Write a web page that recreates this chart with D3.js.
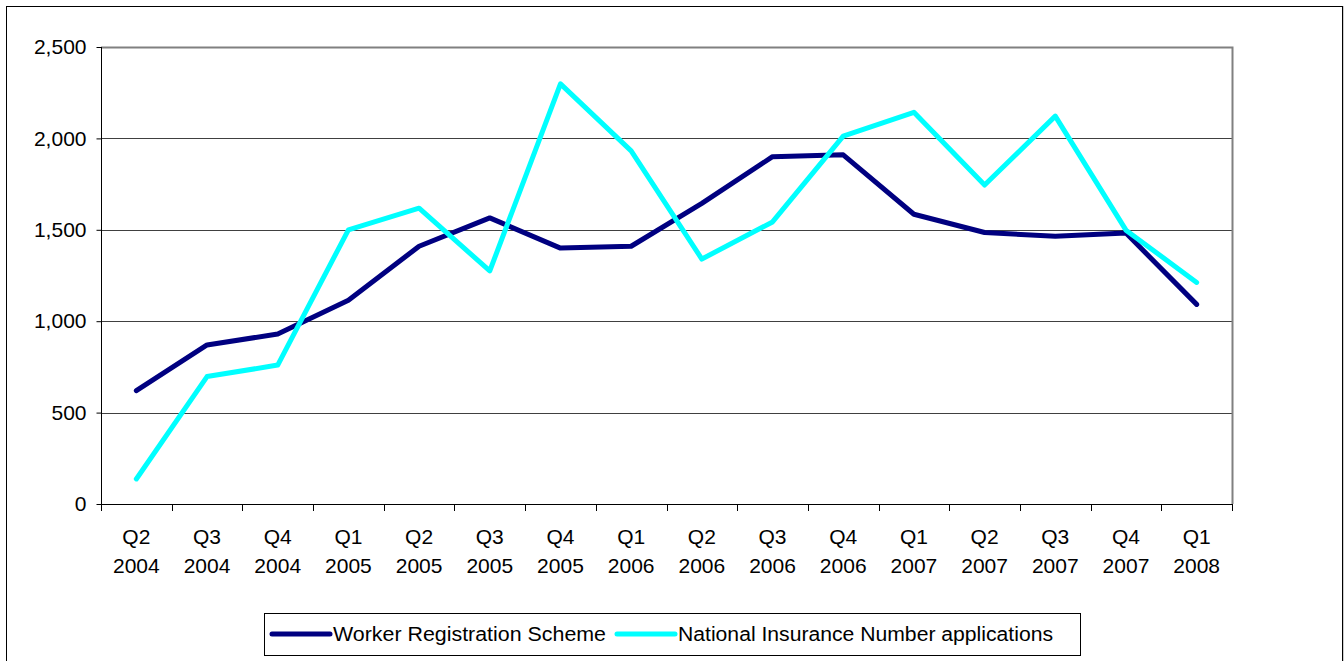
<!DOCTYPE html>
<html>
<head>
<meta charset="utf-8">
<script src="https://cdn.jsdelivr.net/npm/d3@7"></script>
<style>
  body { margin: 0; background: #fff; }
  svg { display: block; font-family: "Liberation Sans", Arial, sans-serif; }
</style>
</head>
<body>
<svg id="chart" width="1344" height="661"></svg>
<script>
const quarters = ['Q2', 'Q3', 'Q4', 'Q1', 'Q2', 'Q3', 'Q4', 'Q1', 'Q2', 'Q3', 'Q4', 'Q1', 'Q2', 'Q3', 'Q4', 'Q1'];
const years = ['2004', '2004', '2004', '2005', '2005', '2005', '2005', '2006', '2006', '2006', '2006', '2007', '2007', '2007', '2007', '2008'];
const workerRegistration = [620, 870, 930, 1115, 1410, 1565, 1400, 1410, 1645, 1900, 1910, 1585, 1485, 1465, 1482, 1092];
const ninoApplications = [137, 697, 760, 1500, 1618, 1275, 2298, 1932, 1340, 1543, 2012, 2143, 1745, 2122, 1498, 1212];
const yTicks = [0, 500, 1000, 1500, 2000, 2500];

const seriesList = [
  { name: 'Worker Registration Scheme', values: workerRegistration, color: '#000080' },
  { name: 'National Insurance Number applications', values: ninoApplications, color: '#00FFFF' },
];

const FONT = '"Liberation Sans", Arial, sans-serif';
const svg = d3.select('#chart');
const plot = { left: 101, right: 1232, top: 47, bottom: 504 };
const categories = quarters.map((q, i) => i);

// outer frame
svg.append('rect').attr('x', 6.5).attr('y', 6.5).attr('width', 1336).attr('height', 670)
  .attr('fill', 'none').attr('stroke', '#000').attr('stroke-width', 1);
svg.append('line').attr('x1', 1343.5).attr('x2', 1343.5).attr('y1', 6).attr('y2', 661)
  .attr('stroke', '#ccc');

const xScale = d3.scaleBand().domain(categories).range([plot.left, plot.right]);
const yScale = d3.scaleLinear().domain([0, 2500]).range([plot.bottom, plot.top]);

// gridlines
svg.append('g')
  .selectAll('line')
  .data(yTicks.slice(1, -1))
  .join('line')
  .attr('x1', plot.left).attr('x2', plot.right)
  .attr('y1', (d) => Math.round(yScale(d)) + 0.5).attr('y2', (d) => Math.round(yScale(d)) + 0.5)
  .attr('stroke', '#404040');

// plot border top/right
svg.append('path')
  .attr('d', `M${plot.left},${plot.top + 0.5}H${plot.right + 0.5}V${plot.bottom}`)
  .attr('fill', 'none').attr('stroke', '#808080').attr('stroke-width', 2);

// y axis
const yAxis = svg.append('g')
  .attr('transform', `translate(${plot.left + 0.5},0)`)
  .call(d3.axisLeft(yScale).tickValues(yTicks).tickSize(5).tickPadding(10)
    .tickFormat(d3.format(',')));
yAxis.selectAll('path, line').attr('stroke', '#000');
yAxis.select('.domain').attr('d', `M0,${plot.bottom}V${plot.top}`);
yAxis.selectAll('text').attr('font-size', 21).attr('fill', '#000')
  .attr('font-family', FONT);

// x axis: ticks at band edges
const edges = categories.map((c) => xScale(c)).concat([plot.right]);
const xAxis = svg.append('g');
xAxis.append('line')
  .attr('x1', plot.left).attr('x2', plot.right + 1)
  .attr('y1', plot.bottom + 0.5).attr('y2', plot.bottom + 0.5)
  .attr('stroke', '#000');
xAxis.selectAll('line.tick')
  .data(edges)
  .join('line')
  .attr('class', 'tick')
  .attr('x1', (d) => Math.round(d) + 0.5).attr('x2', (d) => Math.round(d) + 0.5)
  .attr('y1', plot.bottom).attr('y2', plot.bottom + 7)
  .attr('stroke', '#000');

const labels = xAxis.selectAll('text.cat')
  .data(categories)
  .join('text')
  .attr('class', 'cat')
  .attr('x', (d) => xScale(d) + xScale.bandwidth() / 2)
  .attr('text-anchor', 'middle')
  .attr('font-size', 21)
  .attr('font-family', FONT)
  .attr('fill', '#000');
labels.append('tspan').attr('x', (d) => xScale(d) + xScale.bandwidth() / 2).attr('y', 544)
  .text((d) => quarters[d]);
labels.append('tspan').attr('x', (d) => xScale(d) + xScale.bandwidth() / 2).attr('y', 573)
  .text((d) => years[d]);

// lines
const line = d3.line()
  .x((d, i) => xScale(i) + xScale.bandwidth() / 2)
  .y((d) => yScale(d));

svg.append('g')
  .selectAll('path')
  .data(seriesList)
  .join('path')
  .attr('d', (d) => line(d.values))
  .attr('fill', 'none')
  .attr('stroke', (d) => d.color)
  .attr('stroke-width', 5)
  .attr('stroke-linejoin', 'round')
  .attr('stroke-linecap', 'round');

// legend
const legend = svg.append('g');
legend.append('rect')
  .attr('x', 264.5).attr('y', 613.5).attr('width', 816).attr('height', 42)
  .attr('fill', '#fff').attr('stroke', '#000');

const legendItems = [
  { x: 272, tx: 333 },
  { x: 617, tx: 678 },
];
legend.selectAll('g.item')
  .data(seriesList)
  .join('g')
  .attr('class', 'item')
  .each(function (d, i) {
    const g = d3.select(this);
    g.append('line')
      .attr('x1', legendItems[i].x).attr('x2', legendItems[i].x + 58)
      .attr('y1', 634).attr('y2', 634)
      .attr('stroke', d.color).attr('stroke-width', 5).attr('stroke-linecap', 'round');
    g.append('text')
      .attr('x', legendItems[i].tx).attr('y', 641)
      .attr('font-size', 20)
      .attr('font-family', FONT)
      .attr('textLength', i === 0 ? 273 : 375)
      .attr('lengthAdjust', 'spacingAndGlyphs')
      .text(d.name);
  });
</script>
</body>
</html>
